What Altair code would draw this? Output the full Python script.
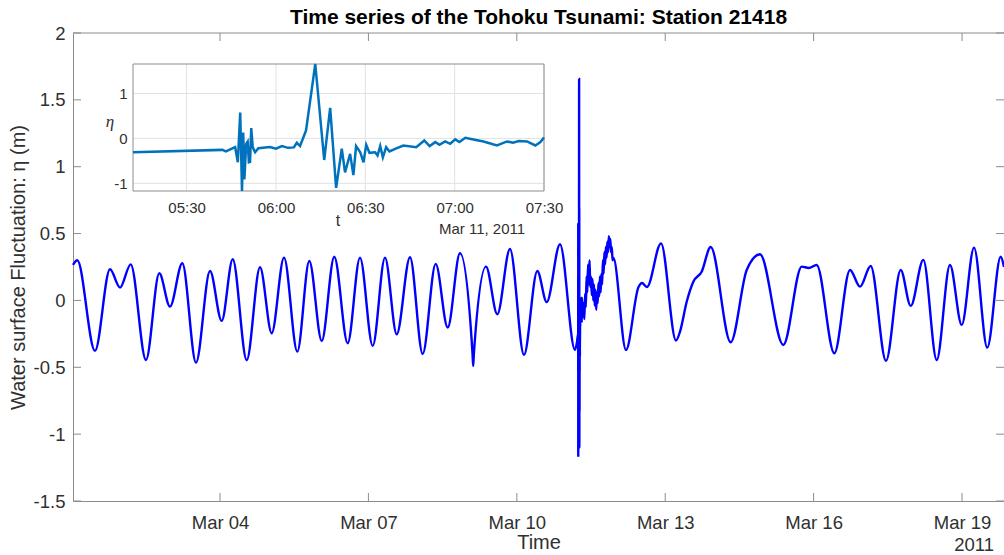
import altair as alt
import pandas as pd

# ---------------------------------------------------------------
# DART station 21418, March 2011.
# Main record: turning points of the tide (day of March, metres)
# ---------------------------------------------------------------
pre_day = [1.0285, 1.115, 1.473, 1.776, 1.979, 2.195, 2.504, 2.773, 2.989, 3.238,
           3.515, 3.798, 4.034, 4.257, 4.540, 4.809, 5.045, 5.294, 5.563, 5.805,
           6.056, 6.310, 6.581, 6.830, 7.087, 7.335, 7.572, 7.841, 8.097, 8.360,
           8.603, 8.851, 9.105, 9.118, 9.130, 9.377, 9.605, 9.862, 10.145, 10.414,
           10.604, 10.873, 11.176]
pre_eta = [0.265, 0.300, -0.377, 0.233, 0.096, 0.270, -0.445, 0.203, -0.046, 0.278,
           -0.465, 0.220, -0.153, 0.308, -0.447, 0.248, -0.245, 0.320, -0.383, 0.295,
           -0.303, 0.327, -0.320, 0.320, -0.340, 0.320, -0.253, 0.323, -0.400, 0.273,
           -0.203, 0.353, -0.400, -0.490, -0.410, 0.253, -0.103, 0.385, -0.407, 0.220,
           -0.013, 0.420, -0.370]

# Tsunami arrival window, 11 March (minutes after 00:00 UTC, metres)
arr_min = [312, 342, 343.2, 346.3, 347.2, 348.0, 348.6, 349.0, 349.4, 350.0,
           350.5, 350.9, 351.3, 351.7, 352.2, 353.0, 354.1, 358, 360, 362,
           364, 366, 367, 368.1, 370.1, 373.2, 376.2, 378.2, 380.2, 382.1,
           383.2, 384.9, 386.0, 386.9, 388.3, 389.4, 390.3, 391.4, 393.3, 394.1,
           395.0, 395.9, 397.0, 398.1, 400.6, 402.8, 407.1, 409.8, 411.6, 413.5,
           414.9, 416.8, 418.5, 420.2, 421.6, 423.6, 426.3, 429.7, 434.2, 437.6,
           439.6, 441.5, 444.3, 447.1, 448.8, 450]
arr_eta = [-0.310, -0.255, -0.290, -0.195, -0.530, 0.577, -1.170, 0.130, -0.910, -0.120,
           -0.070, -0.530, -0.520, 0.230, -0.195, -0.307, -0.217, -0.190, -0.230, -0.170,
           -0.210, -0.200, -0.097, -0.170, 0.180, 1.656, -0.480, 0.680, -1.100, -0.230,
           -0.757, -0.345, -0.817, -0.170, -0.307, -0.530, -0.142, -0.320, -0.307, -0.380,
           -0.170, -0.420, -0.195, -0.290, -0.217, -0.157, -0.195, -0.045, -0.170, -0.082,
           -0.140, -0.067, -0.120, -0.022, -0.082, 0.015, -0.022, -0.067, -0.157, -0.067,
           -0.097, -0.060, -0.067, -0.157, -0.082, 0.020]

# Record after the arrival window (day of March, metres)
post_day = [11.320, 11.335, 11.350, 11.365, 11.380, 11.395, 11.410, 11.425, 11.440, 11.455,
            11.470, 11.485, 11.500, 11.515, 11.530, 11.545, 11.560, 11.575, 11.590, 11.605,
            11.620, 11.635, 11.650, 11.665, 11.680, 11.695, 11.710, 11.725, 11.740, 11.755,
            11.770, 11.785, 11.800, 11.815, 11.830, 11.845, 11.860, 11.875, 11.890, 11.905,
            11.920, 11.935, 11.950, 12.207, 12.460, 12.530, 12.630, 12.915, 13.218, 13.299,
            13.434, 13.568, 13.737, 13.919, 14.323, 14.647, 14.916, 15.387, 15.759, 15.900,
            16.062, 16.418, 16.735, 16.937, 17.153, 17.463, 17.760, 17.962, 18.217, 18.488,
            18.756, 18.993, 19.242, 19.510, 19.781, 19.848]
post_eta = [-0.02, -0.12, -0.02, -0.14, 0.05, -0.05, 0.18, 0.06, 0.27, 0.12,
            0.30, 0.10, 0.18, 0.04, 0.16, 0.00, 0.12, -0.04, 0.08, -0.07,
            0.06, -0.02, 0.13, 0.03, 0.18, 0.06, 0.20, 0.12, 0.30, 0.20,
            0.36, 0.27, 0.40, 0.32, 0.44, 0.36, 0.48, 0.40, 0.46, 0.36,
            0.40, 0.30, 0.32, -0.370, 0.100, 0.130, 0.100, 0.427, -0.300, -0.233,
            -0.010, 0.140, 0.215, 0.400, -0.313, 0.228, 0.345, -0.333, 0.253, 0.243,
            0.265, -0.395, 0.228, 0.103, 0.258, -0.452, 0.228, -0.041, 0.303, -0.445,
            0.265, -0.183, 0.395, -0.353, 0.327, 0.250]

x_ticks = [4, 7, 10, 13, 16, 19]
y_ticks = [-1.5, -1, -0.5, 0, 0.5, 1, 1.5, 2]
inset_x_ticks = [330, 360, 390, 420, 450]
inset_y_ticks = [-1, 0, 1]

# ---------------------------------------------------------------
W, H = 931, 468
FRAME = "#8c8c8c"
GRID = "#e2e2e2"
LABEL = "#303030"
FONT = "Liberation Sans"
TICK = 8

arr_day = [11 + m / 1440 for m in arr_min]
main_df = pd.DataFrame({"day": pre_day + arr_day + post_day,
                        "eta": pre_eta + arr_eta + post_eta})
inset_df = pd.DataFrame({"minute": arr_min, "eta": arr_eta})
xt_df = pd.DataFrame({"d": x_ticks})
yt_df = pd.DataFrame({"v": y_ticks})
ixt_df = pd.DataFrame({"m": inset_x_ticks})
iyt_df = pd.DataFrame({"v": inset_y_ticks})
one = pd.DataFrame({"k": [0]})

main_x = alt.Scale(domain=[1.0285, 19.848], nice=False, zero=False)
main_y = alt.Scale(domain=[-1.5, 2], nice=False, zero=False)

x_axis = alt.Axis(values=x_ticks,
                  labelExpr="'Mar ' + (datum.value < 10 ? '0' : '') + datum.value",
                  title="Time", ticks=False, tickSize=0, grid=False,
                  domainColor=FRAME, labelColor=LABEL, titleColor=LABEL,
                  labelFont=FONT, titleFont=FONT, labelFontSize=18.5, titleFontSize=20,
                  titleFontWeight="normal", labelPadding=12, titlePadding=1,
                  labelFlush=False, labelOverlap=False, labelBound=False)
y_axis = alt.Axis(values=y_ticks, labelExpr="datum.value + ''",
                  title="Water surface Fluctuation: η (m)", ticks=False, tickSize=0,
                  grid=False, domainColor=FRAME, labelColor=LABEL, titleColor=LABEL,
                  labelFont=FONT, titleFont=FONT, labelFontSize=18.5, titleFontSize=20,
                  titleFontWeight="normal", labelPadding=8, titlePadding=5,
                  labelOverlap=False, labelFlush=False)

X = alt.X("day:Q", scale=main_x, axis=x_axis)
Y = alt.Y("eta:Q", scale=main_y, axis=y_axis)

main_line = alt.Chart(main_df).mark_line(
    color="#0000ff", strokeWidth=2.4, interpolate="monotone"
).encode(x=X, y=Y)

# inward tick marks on all four sides, MATLAB box style
tick_bottom = alt.Chart(xt_df).mark_rule(color=FRAME).encode(
    x=alt.X("d:Q", scale=main_x, axis=x_axis), y=alt.value(H), y2=alt.value(H - TICK))
tick_top = alt.Chart(xt_df).mark_rule(color=FRAME).encode(
    x=alt.X("d:Q", scale=main_x, axis=x_axis), y=alt.value(0), y2=alt.value(TICK))
tick_left = alt.Chart(yt_df).mark_rule(color=FRAME).encode(
    y=alt.Y("v:Q", scale=main_y, axis=y_axis), x=alt.value(0), x2=alt.value(TICK))
tick_right = alt.Chart(yt_df).mark_rule(color=FRAME).encode(
    y=alt.Y("v:Q", scale=main_y, axis=y_axis), x=alt.value(W - TICK), x2=alt.value(W))
top_edge = alt.Chart(one).mark_rule(color=FRAME).encode(
    x=alt.value(0), x2=alt.value(W), y=alt.value(0))

year_text = alt.Chart(one).mark_text(
    text="2011", font=FONT, fontSize=18.5, color=LABEL, align="right", baseline="middle"
).encode(x=alt.value(921), y=alt.value(512))

main_layer = alt.layer(main_line, tick_bottom, tick_top, tick_left, tick_right,
                       top_edge, year_text)

# ---------------------------------------------------------------
# Inset: zoom on the arrival window
IX0, IX1, IY0, IY1 = 60, 471, 158, 31
inset_x = alt.Scale(domain=[312, 450], range=[IX0, IX1], nice=False, zero=False)
inset_y = alt.Scale(domain=[min(arr_eta), max(arr_eta)], range=[IY0, IY1],
                    nice=False, zero=False)

ix_axis = alt.Axis(orient="bottom", offset=-(H - IY0), values=inset_x_ticks,
                   labelExpr="(datum.value < 600 ? '0' : '') + floor(datum.value / 60) + ':' + "
                             "(datum.value % 60 < 10 ? '0' : '') + (datum.value % 60)",
                   grid=False, domain=False, ticks=False, tickSize=0,
                   labelFont=FONT, labelFontSize=15, labelColor=LABEL, labelPadding=9,
                   title="", labelFlush=False, labelOverlap=False)
iy_axis = alt.Axis(orient="left", offset=-IX0, values=inset_y_ticks,
                   labelExpr="datum.value + ''",
                   grid=False, domain=False, ticks=False, tickSize=0,
                   labelFont=FONT, labelFontSize=15, labelColor=LABEL, labelPadding=6,
                   title="", labelFlush=False, labelOverlap=False)

IX = alt.X("minute:Q", scale=inset_x, axis=ix_axis)
IY = alt.Y("eta:Q", scale=inset_y, axis=iy_axis)

inset_vgrid = alt.Chart(ixt_df).mark_rule(color=GRID).encode(
    x=alt.X("m:Q", scale=inset_x, axis=ix_axis), y=alt.value(IY1), y2=alt.value(IY0))
inset_hgrid = alt.Chart(iyt_df).mark_rule(color=GRID).encode(
    y=alt.Y("v:Q", scale=inset_y, axis=iy_axis), x=alt.value(IX0), x2=alt.value(IX1))
inset_line = alt.Chart(inset_df).mark_line(color="#0072BD", strokeWidth=2.5).encode(
    x=IX, y=IY)
inset_box = alt.Chart(one).mark_rect(filled=False, stroke=FRAME, strokeWidth=1).encode(
    x=alt.value(IX0), x2=alt.value(IX1), y=alt.value(IY1), y2=alt.value(IY0))

eta_label = alt.Chart(one).mark_text(
    text="η", font="Liberation Serif", fontStyle="italic", fontSize=17, color=LABEL,
    align="center", baseline="middle").encode(x=alt.value(37), y=alt.value(89))
t_label = alt.Chart(one).mark_text(
    text="t", font=FONT, fontSize=16, color=LABEL, align="center",
    baseline="middle").encode(x=alt.value(265), y=alt.value(188))
date_label = alt.Chart(one).mark_text(
    text="Mar 11, 2011", font=FONT, fontSize=15, color=LABEL, align="center",
    baseline="middle").encode(x=alt.value(409), y=alt.value(196))

inset_layer = alt.layer(inset_vgrid, inset_hgrid, inset_box, inset_line,
                        eta_label, t_label, date_label)

chart = alt.layer(main_layer, inset_layer).resolve_scale(
    x="independent", y="independent"
).resolve_axis(
    x="independent", y="independent"
).properties(
    width=W, height=H,
    autosize="none",
    padding={"left": 73, "top": 33, "right": 0, "bottom": 54},
    title=alt.TitleParams("Time series of the Tohoku Tsunami: Station 21418",
                          font=FONT, fontSize=21, fontWeight="bold", color="black",
                          anchor="middle", offset=-4),
).configure_view(stroke="transparent")

chart.save("out.html", embed_options={"renderer": "svg", "actions": False})
